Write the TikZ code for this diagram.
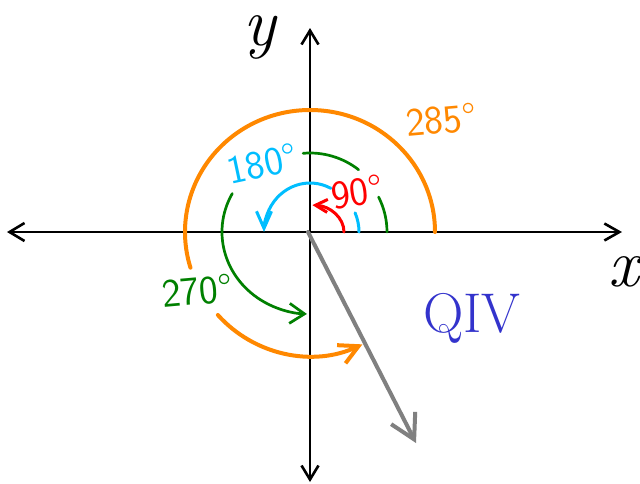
\documentclass[tikz,border=0pt]{standalone}
\usetikzlibrary{arrows.meta}
\definecolor{hOrange}{RGB}{255,136,0}
\definecolor{hGreen}{RGB}{0,128,0}
\definecolor{hCyan}{RGB}{0,190,255}
\definecolor{hRed}{RGB}{255,0,0}
\definecolor{hBlue}{RGB}{51,51,204}
\definecolor{hGray}{RGB}{128,128,128}
\begin{document}
\begin{tikzpicture}[x=1pt,y=1pt,line cap=round,line join=round,
  axisline/.style={line width=2.6pt,black},
  orangearc/.style={line width=4pt,hOrange},
  greenarc/.style={line width=2.7pt,hGreen},
  cyanarc/.style={line width=3pt,hCyan},
  redarc/.style={line width=3pt,hRed},
  grayline/.style={line width=4pt,hGray},
  numlbl/.style={font=\sffamily\fontsize{40}{42}\selectfont,inner sep=0pt},
  varlbl/.style={font=\rmfamily\itshape\fontsize{68}{68}\selectfont,inner sep=0pt}]
\useasboundingbox (-310,-251) rectangle (330,232);
\fill[white] (-310,-251) rectangle (330,232);
% axes
\coordinate (O) at (0,0);
\coordinate (L) at (-303,0);
\coordinate (R) at (312,0);
\coordinate (T) at (0,204);
\coordinate (B) at (0,-250);
\draw[axisline,{Straight Barb[length=15pt,width=18pt]}-{Straight Barb[length=15pt,width=17pt]}] (L) -- (R);
\draw[axisline,{Straight Barb[length=14pt,width=17pt]}-{Straight Barb[length=14pt,width=17pt]}] (B) -- (T);
\node[varlbl] (ylbl) at (-50,195) {y};
\node[varlbl] (xlbl) at (314,-40) {x};
% orange 285
\draw[orangearc] (125pt,0) arc[start angle=0,end angle=197,x radius=125pt,y radius=122pt];
\draw[orangearc,-{Straight Barb[length=19pt,width=20pt]}] (222:124pt) arc[start angle=222,end angle=295,radius=124pt];
\node[numlbl,text=hOrange,rotate=5] (t285) at (131,112) {285°};
% green 270
\draw[greenarc] (77pt,0) arc[start angle=0,end angle=27,radius=77pt];
\draw[greenarc] (52:79pt) arc[start angle=52,end angle=95,radius=79pt];
\draw[greenarc,-{Straight Barb[length=15pt,width=20pt]}] (152:88pt and 82pt) arc[start angle=152,end angle=268,x radius=88pt,y radius=82pt];
\node[numlbl,text=hGreen,rotate=5] (t270) at (-113,-59) {270°};
% cyan 180
\draw[cyanarc] (49pt,0) arc[start angle=0,end angle=23,radius=49pt];
\draw[cyanarc,-{Straight Barb[length=17pt,width=15pt]}] (63:46pt and 49pt) arc[start angle=63,end angle=180,x radius=46pt,y radius=49pt];
\node[numlbl,text=hCyan,rotate=12] (t180) at (-48,68) {180°};
% red 90
\draw[redarc,-{Straight Barb[length=12pt,width=13pt]}] (34pt,0) arc[start angle=0,end angle=86,x radius=34pt,y radius=27pt];
\node[numlbl,text=hRed,rotate=8] (t90) at (47,40) {90°};
% terminal side
\coordinate (G) at (106,-211);
\draw[grayline,-{Straight Barb[length=24pt,width=27pt]}] (-2,0) -- (G);
\node[font=\rmfamily\fontsize{56}{60}\selectfont,text=hBlue,inner sep=0pt] (q4) at (162,-86) {QIV};
\end{tikzpicture}
\end{document}
